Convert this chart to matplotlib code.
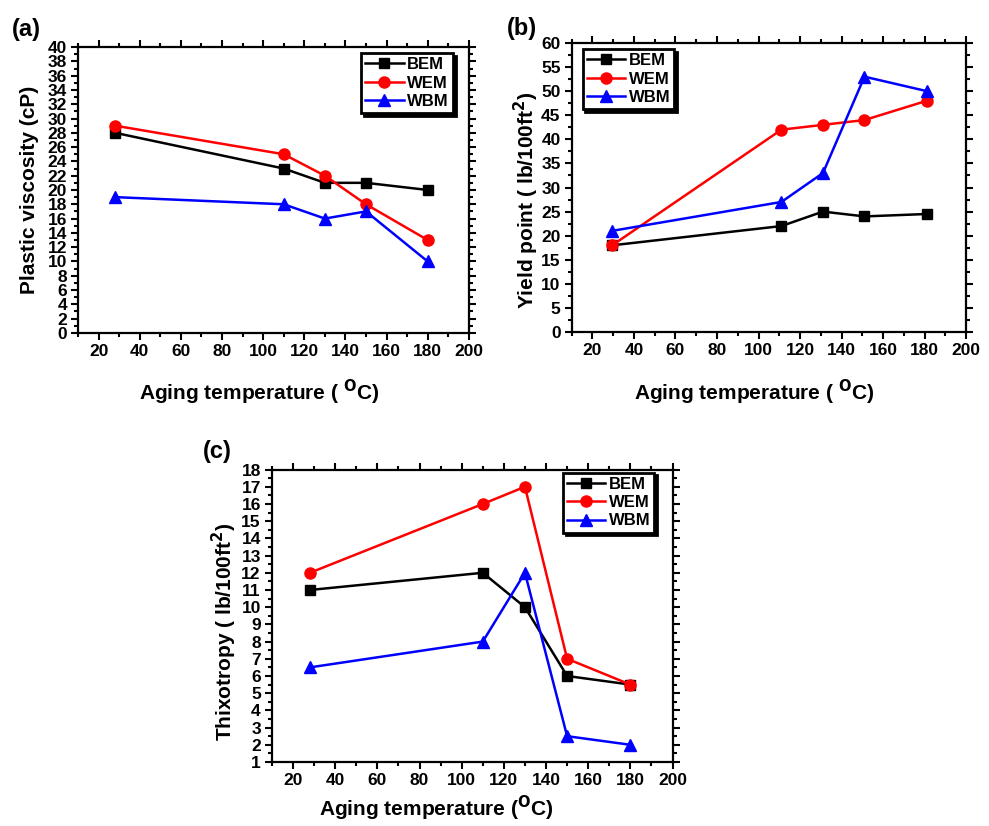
import numpy as np
import matplotlib
matplotlib.use('Agg')
import matplotlib.pyplot as plt
from matplotlib.ticker import MultipleLocator

plt.rcParams.update({'font.family': ['Liberation Sans', 'DejaVu Sans'],
                     'font.weight': 'bold', 'axes.labelweight': 'bold',
                     'axes.linewidth': 1.6})

# aging temperature (C)
temp = [28, 110, 130, 150, 180]
temp_b = [29.5, 111, 131, 151, 181]

# (a) plastic viscosity, cP
pv_bem = [28, 23, 21, 21, 20]
pv_wem = [29, 25, 22, 18, 13]
pv_wbm = [19, 18, 16, 17, 10]

# (b) yield point, lb/100ft2
yp_bem = [18, 22, 25, 24, 24.5]
yp_wem = [18, 42, 43, 44, 48]
yp_wbm = [21, 27, 33, 53, 50]

# (c) thixotropy, lb/100ft2
th_bem = [11, 12, 10, 6, 5.5]
th_wem = [12, 16, 17, 7, 5.5]
th_wbm = [6.5, 8, 12, 2.5, 2]

names = ['BEM', 'WEM', 'WBM']
colors = ['black', 'red', 'blue']
markers = ['s', 'o', '^']
msizes = [7, 8, 9]

fig = plt.figure(figsize=(9.89, 8.26), dpi=100)
ax1 = fig.add_axes([0.079, 0.597, 0.395, 0.346])
ax2 = fig.add_axes([0.578, 0.598, 0.399, 0.350])
ax3 = fig.add_axes([0.275, 0.0775, 0.405, 0.354])


def draw(ax, x, series, ylim, ystep, ylabel, legloc, legpos, letter, lx, ly):
    for ys, nm, c, m, ms in zip(series, names, colors, markers, msizes):
        ax.plot(x, ys, color=c, marker=m, ms=ms, lw=1.8, label=nm)
    ax.set_xlim(10, 200)
    ax.set_ylim(*ylim)
    ax.xaxis.set_major_locator(MultipleLocator(20))
    ax.xaxis.set_minor_locator(MultipleLocator(10))
    ax.yaxis.set_major_locator(MultipleLocator(ystep))
    ax.yaxis.set_minor_locator(MultipleLocator(ystep / 2))
    ax.tick_params(which='both', direction='out', top=True, right=True, labelsize=12.5,
                   width=1.5, pad=3)
    ax.tick_params(which='major', length=5)
    ax.tick_params(which='minor', length=3)
    ax.set_ylabel(ylabel, fontsize=15)
    leg = ax.legend(loc=legloc, bbox_to_anchor=legpos, borderaxespad=0, fontsize=12,
                    handlelength=2.3, handletextpad=0.2,
                    borderpad=0.25, labelspacing=0.2, fancybox=False,
                    shadow={'facecolor': 'black', 'edgecolor': 'black', 'alpha': 1, 'shade': 0},
                    framealpha=1, edgecolor='black')
    leg.get_frame().set_linewidth(2)
    fig.text(lx, ly, letter, fontsize=17, fontweight='bold')


draw(ax1, temp, [pv_bem, pv_wem, pv_wbm], (0, 40), 2, 'Plastic viscosity (cP)',
     'upper right', (0.959, 0.979), '(a)', 0.012, 0.957)
draw(ax2, temp_b, [yp_bem, yp_wem, yp_wbm], (0, 60), 5, 'Yield point ( lb/100ft$^{\\mathbf{2}}$)',
     'upper left', (0.028, 0.979), '(b)', 0.513, 0.958)
draw(ax3, temp, [th_bem, th_wem, th_wbm], (1, 18), 1, 'Thixotropy ( lb/100ft$^{\\mathbf{2}}$)',
     'upper right', (0.955, 0.99), '(c)', 0.205, 0.445)

ax1.set_xlabel('Aging temperature ( $^{\\mathbf{O}}$C)', fontsize=15)
ax2.set_xlabel('Aging temperature ( $^{\\mathbf{O}}$C)', fontsize=15)
ax3.set_xlabel('Aging temperature ($^{\\mathbf{O}}$C)', fontsize=15)
ax1.xaxis.set_label_coords(0.463, -0.157)
ax2.xaxis.set_label_coords(0.462, -0.159)
ax3.xaxis.set_label_coords(0.411, -0.11)
ax1.yaxis.set_label_coords(-0.1, 0.5)
ax2.yaxis.set_label_coords(-0.078, 0.457)
ax3.yaxis.set_label_coords(-0.082, 0.445)

fig.savefig('out.png', dpi=100)
